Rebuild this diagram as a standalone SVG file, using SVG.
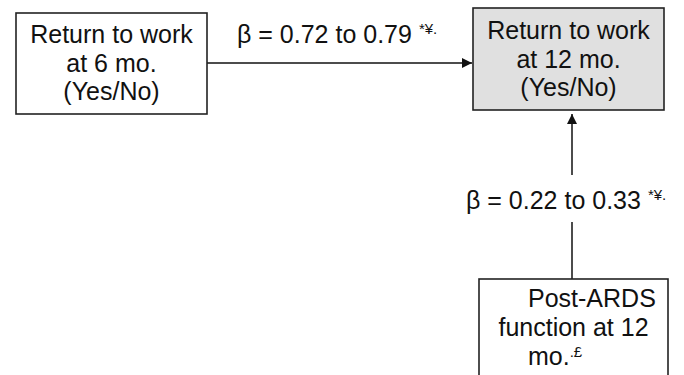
<svg xmlns="http://www.w3.org/2000/svg" width="684" height="375" viewBox="0 0 684 375">
<style>
.box{fill:#fff;stroke:#222;stroke-width:1.6}
.t{font-family:"Liberation Sans",Arial,sans-serif;font-size:25px;fill:#111}
.c{text-anchor:middle}
.s{font-family:"Liberation Sans",Arial,sans-serif;font-size:15px;fill:#111}
.ln{stroke:#111;stroke-width:1.5;fill:none}
</style>
<defs>
<marker id="ah" viewBox="0 0 10 10" refX="10" refY="5" markerWidth="10" markerHeight="10" markerUnits="userSpaceOnUse" orient="auto">
<path d="M0,0 L10,5 L0,10 z" fill="#111"/>
</marker>
</defs>
<rect width="684" height="375" fill="#fff"/>
<g id="connectors">
<line class="ln" x1="207" y1="63" x2="472" y2="63" marker-end="url(#ah)"/>
<line class="ln" x1="572" y1="175" x2="572" y2="114" marker-end="url(#ah)"/>
<line class="ln" x1="572" y1="222" x2="572" y2="279"/>
<text class="t" x="237" y="43">β = 0.72 to 0.79 <tspan class="s" dy="-9">*¥.</tspan></text>
<text class="t" x="466" y="209">β = 0.22 to 0.33 <tspan class="s" dy="-9">*¥.</tspan></text>
</g>
<g id="node1">
<rect class="box" x="16" y="13" width="191" height="101"/>
<text class="t c" x="111.5" y="43">Return to work</text>
<text class="t c" x="111.5" y="72">at 6 mo.</text>
<text class="t c" x="111.5" y="100">(Yes/No)</text>
</g>
<g id="node2">
<rect class="box" x="473" y="8" width="191" height="102" style="fill:#e0e0e0"/>
<text class="t c" x="568.5" y="39">Return to work</text>
<text class="t c" x="568.5" y="68">at 12 mo.</text>
<text class="t c" x="568.5" y="96">(Yes/No)</text>
</g>
<g id="node3">
<rect class="box" x="479" y="279" width="189" height="110"/>
<text class="t" x="528" y="307">Post-ARDS</text>
<text class="t c" x="573.5" y="336">function at 12</text>
<text class="t" x="528" y="365">mo.<tspan class="s" dy="-8">.£</tspan></text>
</g>
</svg>
